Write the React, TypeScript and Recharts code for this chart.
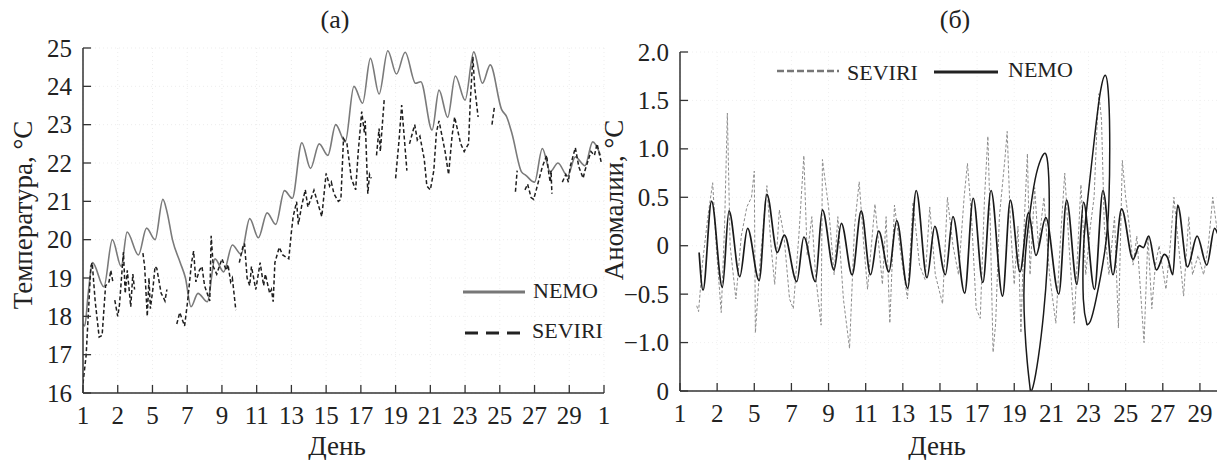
import React from 'react';
import { LineChart, Line, XAxis, YAxis, CartesianGrid } from 'recharts';

type Pt = [number, number | null];

const FONT = '"Liberation Serif", "Times New Roman", serif';

// ---- Panel (а): temperature ----
const tempTicks = [16, 17, 18, 19, 20, 21, 22, 23, 24, 25];
const tempDayTicks = [1, 3, 5, 7, 9, 11, 13, 15, 17, 19, 21, 23, 25, 27, 29, 31];
const tempDayLabels = ['1', '2', '5', '7', '9', '11', '13', '15', '17', '19', '21', '23', '25', '27', '29', '1'];

const nemoTemp: Pt[] = [
  [1.0, 17.8], [1.1, 17.75], [1.3, 18.6], [1.55, 19.4], [2.2, 18.77], [2.69, 20.0], [3.2, 19.3],
  [3.54, 20.2], [4.19, 19.6], [4.66, 20.3], [5.15, 20.0], [5.6, 21.05], [5.85, 20.7], [6.15, 20.0],
  [6.6, 19.4], [6.9, 19.0], [7.22, 18.25], [7.62, 18.6], [8.16, 18.38], [8.6, 19.5], [9.1, 19.16],
  [9.6, 19.86], [10.1, 19.62], [10.6, 20.55], [11.1, 20.05], [11.6, 20.7], [12.1, 20.4], [12.6, 21.28],
  [13.05, 21.08], [13.6, 22.53], [14.1, 21.86], [14.6, 22.5], [15.1, 22.2], [15.55, 23.0], [16.1, 22.55],
  [16.6, 24.0], [17.1, 23.56], [17.55, 24.73], [18.05, 23.8], [18.55, 24.93], [19.05, 24.32],
  [19.55, 24.89], [20.15, 24.08], [20.45, 24.12], [21.1, 22.86], [21.5, 23.9], [22.0, 23.19],
  [22.44, 24.27], [23.0, 23.64], [23.5, 24.9], [24.0, 24.08], [24.45, 24.56], [25.1, 23.4],
  [25.4, 23.2], [25.7, 22.77], [26.25, 21.77], [26.5, 21.68], [27.0, 21.5], [27.45, 22.38],
  [27.9, 21.77], [28.35, 22.0], [28.9, 21.66], [29.35, 22.16], [29.9, 21.93], [30.35, 22.55], [30.8, 22.2],
];

const seviriTemp: Pt[] = [
  [1.0, 16.25], [1.18, 16.98], [1.3, 18.0], [1.45, 19.3], [1.53, 19.4], [1.7, 18.4], [1.93, 17.46],
  [2.1, 17.5], [2.3, 18.8], [2.5, 18.9], [2.6, 19.2], [2.72, 18.9], [2.78, null],
  [2.83, 18.42], [3.0, 18.0], [3.1, 18.3], [3.33, 19.68], [3.43, 18.6], [3.55, 19.2], [3.75, 18.25],
  [3.87, 19.1], [3.97, 18.7], [4.2, null],
  [4.45, 19.65], [4.55, 19.3], [4.7, 18.0], [4.8, 19.0], [4.88, 18.2], [5.02, 18.7], [5.15, 19.3],
  [5.25, 19.25], [5.5, 18.6], [5.62, 18.5], [5.72, 18.4], [5.83, 18.7], [6.1, null],
  [6.4, 17.8], [6.57, 18.1], [6.85, 17.75], [7.0, 18.3], [7.25, 19.4], [7.37, 19.7], [7.5, 18.9],
  [7.7, 19.2], [7.85, 19.3], [8.0, 18.8], [8.3, 18.4], [8.38, 20.1], [8.5, 19.3], [8.7, 19.1],
  [9.0, 19.5], [9.25, 19.2], [9.35, 19.35], [9.5, 18.9], [9.6, 19.0], [9.8, 18.16], [9.9, null],
  [10.0, 19.4], [10.2, 19.8], [10.3, 19.9], [10.45, 19.0], [10.6, 18.8], [10.7, 19.3], [10.95, 18.7],
  [11.2, 19.4], [11.4, 18.8], [11.5, 19.1], [11.75, 18.6], [11.85, 18.7], [11.95, 18.38], [12.05, 19.4],
  [12.3, 19.8], [12.5, 19.6], [12.85, 19.5], [13.0, 20.2], [13.1, 20.6], [13.3, 20.99], [13.4, 20.4],
  [13.6, 20.9], [13.8, 21.3], [13.95, 20.85], [14.3, 21.29], [14.75, 20.6], [15.0, 21.73], [15.2, 21.4],
  [15.3, 21.5], [15.45, 21.2], [15.7, 21.0], [15.85, 21.05], [16.0, 22.64], [16.2, 22.5], [16.45, 21.6],
  [16.7, 21.3], [16.85, 22.3], [17.05, 23.34], [17.2, 22.8], [17.25, 23.1], [17.4, 21.2], [17.5, 21.7],
  [17.6, 21.6], [17.75, null],
  [17.9, 22.2], [18.05, 22.9], [18.12, 22.3], [18.35, 23.69], [18.6, null],
  [19.0, 21.6], [19.2, 22.6], [19.35, 23.51], [19.65, 21.8], [19.72, null],
  [19.8, 22.5], [20.1, 23.0], [20.25, 22.6], [20.4, 22.7], [20.65, 22.1], [20.8, 21.4], [21.0, 21.3],
  [21.2, 21.8], [21.35, 22.8], [21.5, 23.1], [21.85, 22.3], [22.05, 21.7], [22.25, 22.7], [22.4, 23.2],
  [22.75, 22.5], [22.95, 22.3], [23.2, 22.5], [23.3, 23.6], [23.45, 24.77], [23.55, 24.0], [23.75, 23.2],
  [24.1, null],
  [24.55, 23.0], [24.7, 23.5], [25.3, null],
  [25.9, 21.25], [26.0, 21.8], [26.2, null],
  [26.45, 21.3], [26.6, 21.45], [26.8, 21.1], [26.95, 21.05], [27.1, 21.3], [27.45, 21.9], [27.7, 22.2],
  [27.8, 21.8], [27.9, 21.5], [27.95, 21.8], [28.0, 21.2], [28.3, null],
  [28.6, 21.5], [28.8, 21.7], [28.95, 21.5], [29.05, 21.9], [29.35, 22.4], [29.55, 21.9], [29.8, 21.6],
  [29.9, 21.8], [30.25, 22.3], [30.45, 22.2], [30.6, 22.5], [30.85, 22.0],
];

// ---- Panel (б): anomalies ----
const anomTicks = [-1.5, -1, -0.5, 0, 0.5, 1, 1.5, 2];
const anomTickLabels = ['0', '\u22121.0', '\u22120.5', '0', '0.5', '1.0', '1.5', '2.0'];
const anomDayTicks = [1, 3, 5, 7, 9, 11, 13, 15, 17, 19, 21, 23, 25, 27, 29];
const anomDayLabels = ['1', '2', '5', '7', '9', '11', '13', '15', '17', '19', '21', '23', '25', '27', '29'];

const nemoAnom: Pt[] = [
  [2.03, -0.07], [2.24, -0.46], [2.7, 0.46], [3.28, -0.43], [3.64, 0.36], [4.22, -0.32], [4.64, 0.18],
  [5.26, -0.36], [5.68, 0.53], [6.24, -0.07], [6.62, 0.11], [7.29, -0.37], [7.67, 0.09], [8.29, -0.37],
  [8.67, 0.37], [9.29, -0.25], [9.69, 0.23], [10.27, -0.3], [10.76, 0.36], [11.26, -0.3], [11.7, 0.15],
  [12.25, -0.27], [12.67, 0.26], [13.26, -0.44], [13.72, 0.57], [14.3, -0.33], [14.72, 0.2],
  [15.29, -0.3], [15.7, 0.3], [16.33, -0.49], [16.79, 0.49], [17.31, -0.38], [17.75, 0.57],
  [18.37, -0.52], [18.79, 0.47], [19.31, -0.27], [19.77, 0.34], [20.17, -0.1], [20.7, 0.29],
  [21.4, -0.5], [21.82, 0.47], [22.38, -0.4], [22.73, 0.45], [23.32, -0.45], [23.78, 0.57],
  [24.32, -0.3], [24.78, 0.38], [25.4, -0.14], [25.74, 0.0], [25.95, -0.02], [26.24, 0.1],
  [26.66, -0.25], [27.08, -0.09], [27.25, -0.12], [27.54, -0.3], [27.8, 0.42], [28.33, -0.22],
  [28.85, 0.1], [29.37, -0.2], [29.79, 0.18], [30.0, 0.1],
];

// the two spline overshoot loops of the NEMO anomaly curve
const nemoAnomLoop1: Pt[] = [
  [19.87, -1.5], [19.7, -1.2], [19.57, -0.85], [19.52, -0.5], [19.6, -0.1], [19.82, 0.3], [20.12, 0.68],
  [20.45, 0.9], [20.72, 0.94], [20.86, 0.7], [20.88, 0.3], [20.78, -0.2], [20.58, -0.7], [20.3, -1.15],
  [20.02, -1.45], [19.87, -1.5],
];
const nemoAnomLoop2: Pt[] = [
  [22.92, -0.82], [22.72, -0.55], [22.74, 0.0], [22.95, 0.47], [23.35, 1.16], [23.65, 1.6], [23.9, 1.76],
  [24.06, 1.6], [24.14, 1.16], [24.1, 0.47], [23.88, -0.05], [23.4, -0.56], [23.1, -0.78], [22.92, -0.82],
];

const seviriAnom: Pt[] = [
  [1.9, -0.62], [2.0, -0.68], [2.2, -0.2], [2.5, 0.3], [2.76, 0.65], [2.95, 0.0], [3.22, -0.69],
  [3.4, 0.2], [3.55, 1.37], [3.7, 0.0], [4.01, -0.55], [4.3, 0.1], [4.6, 0.4], [4.85, 0.5], [5.0, 0.77],
  [5.06, -0.9], [5.3, -0.2], [5.68, 0.62], [5.9, 0.0], [6.1, -0.4], [6.35, 0.37], [6.6, 0.1], [6.9, -0.55],
  [7.1, -0.65], [7.4, 0.1], [7.67, 0.93], [7.85, -0.1], [8.1, 0.3], [8.3, -0.3], [8.6, -0.82], [8.67, 0.89],
  [9.0, 0.4], [9.3, -0.3], [9.5, 0.3], [9.8, -0.55], [10.13, -1.06], [10.4, 0.2], [10.65, 0.66],
  [10.9, 0.0], [11.1, -0.45], [11.5, 0.43], [11.9, -0.4], [12.1, 0.3], [12.3, -0.8], [12.55, 0.42],
  [12.9, -0.1], [13.25, -0.55], [13.55, 0.45], [13.9, -0.2], [14.2, -0.35], [14.45, 0.4], [14.75, -0.3],
  [15.14, -0.6], [15.4, 0.5], [15.7, 0.0], [16.0, -0.3], [16.3, 0.5], [16.48, 0.85], [16.7, 0.3],
  [16.95, -0.65], [17.17, -0.75], [17.4, 0.5], [17.58, 1.13], [17.7, 0.3], [17.86, -1.1], [18.0, -0.8],
  [18.2, 0.3], [18.5, 0.9], [18.62, 1.18], [18.8, 0.2], [19.0, -0.4], [19.2, 0.2], [19.36, -0.9],
  [19.55, 0.3], [19.71, 0.95], [19.85, -0.3], [20.1, 0.6], [20.3, 0.0], [20.6, 0.5], [20.9, -0.3],
  [21.24, -0.8], [21.5, 0.1], [21.72, 0.75], [21.95, 0.0], [22.23, -0.8], [22.59, 0.63], [22.85, -0.3],
  [23.1, 0.2], [23.3, 0.5], [23.45, 1.2], [23.56, 1.57], [23.7, 1.3], [23.85, 0.2], [24.1, -0.3],
  [24.4, 0.3], [24.61, -0.85], [24.82, 0.88], [25.0, 0.5], [25.2, 0.2], [25.4, -0.2], [25.6, 0.1],
  [25.99, -1.0], [26.2, 0.1], [26.41, -0.65], [26.6, -0.2], [26.8, 0.0], [27.17, -0.45], [27.4, 0.0],
  [27.6, 0.5], [27.85, 0.0], [28.12, -0.52], [28.4, 0.3], [28.6, -0.3], [28.9, -0.1], [29.2, -0.3],
  [29.45, 0.0], [29.69, 0.5], [29.9, 0.2], [30.0, 0.1],
];

const toData = (pts: Pt[]) => pts.map(([d, v]) => ({ d, v }));

const AX = '#333';
const TXT = '#222';

const makeYTick = (ticks: number[], labels: string[]) => (props: any) => {
  const { x, y, payload } = props;
  const i = ticks.indexOf(payload.value);
  return (
    <g>
      <line x1={x} x2={x + 8} y1={y} y2={y} stroke={AX} strokeWidth={1.3} />
      <text x={x - 11} y={y + 8.5} textAnchor="end" fontFamily={FONT} fontSize={25} fill={TXT}>
        {labels[i]}
      </text>
    </g>
  );
};

const makeXTick = (ticks: number[], labels: string[]) => (props: any) => {
  const { x, y, payload } = props;
  const i = ticks.indexOf(payload.value);
  return (
    <g>
      <line x1={x} x2={x} y1={y} y2={y - 8} stroke={AX} strokeWidth={1.3} />
      <text x={x} y={y + 31} textAnchor="middle" fontFamily={FONT} fontSize={25} fill={TXT}>
        {labels[i]}
      </text>
    </g>
  );
};

export default function App() {
  const textStyle = { fontFamily: FONT, fill: TXT } as const;
  return (
    <div style={{ position: 'fixed', left: 0, top: 0, width: 1217, height: 460, overflow: 'hidden', background: '#fff' }}>
      <div style={{ position: 'absolute', left: 0, top: 0 }}>
        <LineChart width={610} height={460} margin={{ top: 48, right: 6, bottom: 57, left: 73 }}>
          <CartesianGrid stroke="#ededed" strokeDasharray="1 3" verticalPoints={[]} />
          <XAxis type="number" dataKey="d" domain={[1, 31]} ticks={tempDayTicks} interval={0} height={10}
            tickSize={0} tickMargin={0} tickLine={false} allowDataOverflow
            axisLine={{ stroke: AX, strokeWidth: 1.5 }} tick={makeXTick(tempDayTicks, tempDayLabels)} />
          <YAxis type="number" domain={[16, 25]} ticks={tempTicks} interval={0} width={10}
            tickSize={0} tickMargin={0} tickLine={false} allowDataOverflow
            axisLine={{ stroke: AX, strokeWidth: 1.5 }} tick={makeYTick(tempTicks, tempTicks.map(String))} />
          <Line data={toData(nemoTemp)} dataKey="v" type="monotone" stroke="#7a7a7a" strokeWidth={1.6}
            dot={false} activeDot={false} isAnimationActive={false} />
          <Line data={toData(seviriTemp)} dataKey="v" type="linear" stroke="#1e1e1e" strokeWidth={1.5}
            strokeDasharray="4 2.5" dot={false} activeDot={false} isAnimationActive={false} />
        </LineChart>
      </div>
      <div style={{ position: 'absolute', left: 610, top: 0 }}>
        <LineChart width={612} height={460} margin={{ top: 52, right: 3.5, bottom: 59, left: 60 }}>
          <CartesianGrid stroke="#f0f0f0" strokeDasharray="1 3" verticalPoints={[]} />
          <XAxis type="number" dataKey="d" domain={[1, 30]} ticks={anomDayTicks} interval={0} height={10}
            tickSize={0} tickMargin={0} tickLine={false} allowDataOverflow
            axisLine={{ stroke: AX, strokeWidth: 1.5 }} tick={makeXTick(anomDayTicks, anomDayLabels)} />
          <YAxis type="number" domain={[-1.5, 2]} ticks={anomTicks} interval={0} width={10}
            tickSize={0} tickMargin={0} tickLine={false} allowDataOverflow
            axisLine={{ stroke: AX, strokeWidth: 1.5 }} tick={makeYTick(anomTicks, anomTickLabels)} />
          <Line data={toData(seviriAnom)} dataKey="v" type="linear" stroke="#8c8c8c" strokeWidth={1}
            strokeDasharray="3 2" dot={false} activeDot={false} isAnimationActive={false} />
          <Line data={toData(nemoAnom)} dataKey="v" type="monotone" stroke="#1a1a1a" strokeWidth={1.7}
            dot={false} activeDot={false} isAnimationActive={false} />
          <Line data={toData(nemoAnomLoop1)} dataKey="v" type="natural" stroke="#1a1a1a" strokeWidth={1.5}
            dot={false} activeDot={false} isAnimationActive={false} />
          <Line data={toData(nemoAnomLoop2)} dataKey="v" type="natural" stroke="#1a1a1a" strokeWidth={1.5}
            dot={false} activeDot={false} isAnimationActive={false} />
        </LineChart>
      </div>
      <svg width={1217} height={460} style={{ position: 'absolute', left: 0, top: 0, pointerEvents: 'none' }}>
        <text x={335} y={28} textAnchor="middle" fontSize={26} style={textStyle}>(а)</text>
        <text x={955} y={28} textAnchor="middle" fontSize={26} style={textStyle}>(б)</text>
        <text x={337} y={455} textAnchor="middle" fontSize={27} style={textStyle}>День</text>
        <text x={937} y={455} textAnchor="middle" fontSize={27} style={textStyle}>День</text>
        <text transform="translate(32,215) rotate(-90)" textAnchor="middle" fontSize={27} style={textStyle}>
          Температура, °C
        </text>
        <text transform="translate(623,200) rotate(-90)" textAnchor="middle" fontSize={27} style={textStyle}>
          Аномалии, °C
        </text>
        {/* legend (а) */}
        <line x1={463} x2={525} y1={292} y2={292} stroke="#777" strokeWidth={3} />
        <text x={533} y={298} fontSize={22} style={textStyle}>NEMO</text>
        <line x1={465} x2={521} y1={333} y2={333} stroke="#222" strokeWidth={3} strokeDasharray="13 8" />
        <text x={532} y={338} fontSize={22} style={textStyle}>SEVIRI</text>
        {/* legend (б) */}
        <line x1={777} x2={839} y1={71} y2={71} stroke="#777" strokeWidth={2.5} strokeDasharray="7 3" />
        <text x={847} y={80} fontSize={22} style={textStyle}>SEVIRI</text>
        <line x1={934} x2={998} y1={72} y2={72} stroke="#222" strokeWidth={3} />
        <text x={1008} y={77} fontSize={22} style={textStyle}>NEMO</text>
      </svg>
    </div>
  );
}
